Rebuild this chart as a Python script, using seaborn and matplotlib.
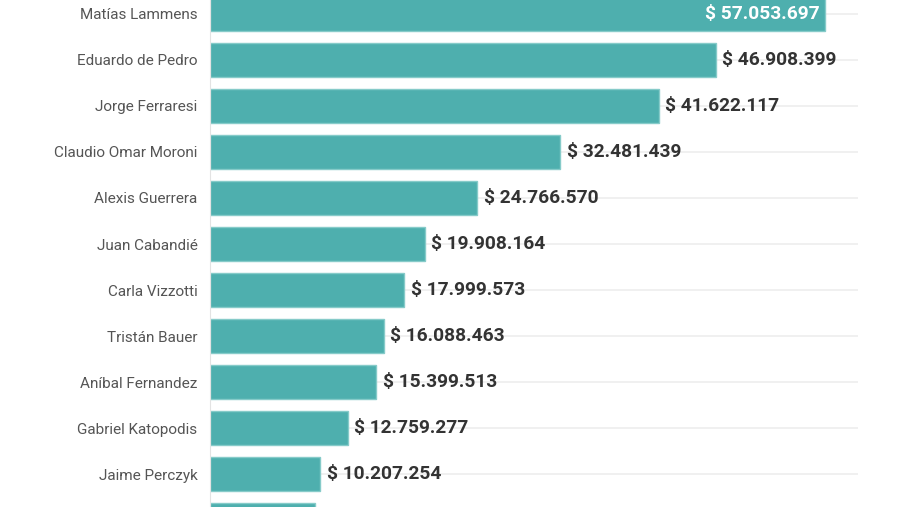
import matplotlib
matplotlib.use("Agg")
import matplotlib.pyplot as plt
import seaborn as sns
import pandas as pd

nombres = ["Matías Lammens", "Eduardo de Pedro", "Jorge Ferraresi", "Claudio Omar Moroni",
           "Alexis Guerrera", "Juan Cabandié", "Carla Vizzotti", "Tristán Bauer",
           "Aníbal Fernandez", "Gabriel Katopodis", "Jaime Perczyk", "Otros"]
montos = [57053697, 46908399, 41622117, 32481439, 24766570, 19908164,
          17999573, 16088463, 15399513, 12759277, 10207254, 9740000]

df = pd.DataFrame({"nombre": nombres, "monto": montos})

sns.set_style("white")
plt.rcParams["font.family"] = ["Roboto", "DejaVu Sans"]

fig = plt.figure(figsize=(9, 5.07), dpi=100)
ax = fig.add_axes([210 / 900, 0, 648 / 900, 1])

sns.barplot(data=df, x="monto", y="nombre", orient="h", color="#4eafae",
            saturation=1, width=0.74, edgecolor="#86cbc9", linewidth=1, ax=ax)

ymax, ymin = 10.717, -0.304
ax.set_xlim(0, 60.08e6)
ax.set_ylim(ymax, ymin)
ax.set_xlabel("")
ax.set_ylabel("")
ax.set_xticks([])
ax.grid(axis="y", color="#eeeeee", linewidth=1.2)
ax.set_axisbelow(True)
for s in ["top", "right", "bottom"]:
    ax.spines[s].set_visible(False)
ax.spines["left"].set_color("#e3e3e3")
ax.tick_params(axis="y", length=5, color="#e3e3e3", pad=4,
               labelsize=11, labelcolor="#555555")

for i, v in enumerate(montos):
    if i > ymax - 0.3:
        continue  # fuera del recorte
    txt = "$ " + f"{v:,}".replace(",", ".")
    if i == 0:
        ax.text(v - 0.55e6, i, txt, ha="right", va="center", color="white",
                fontsize=13.8, fontweight="bold")
    else:
        ax.text(v + 0.6e6, i, txt, ha="left", va="center", color="#333333",
                fontsize=13.8, fontweight="bold")

fig.savefig("out.png", dpi=100)
